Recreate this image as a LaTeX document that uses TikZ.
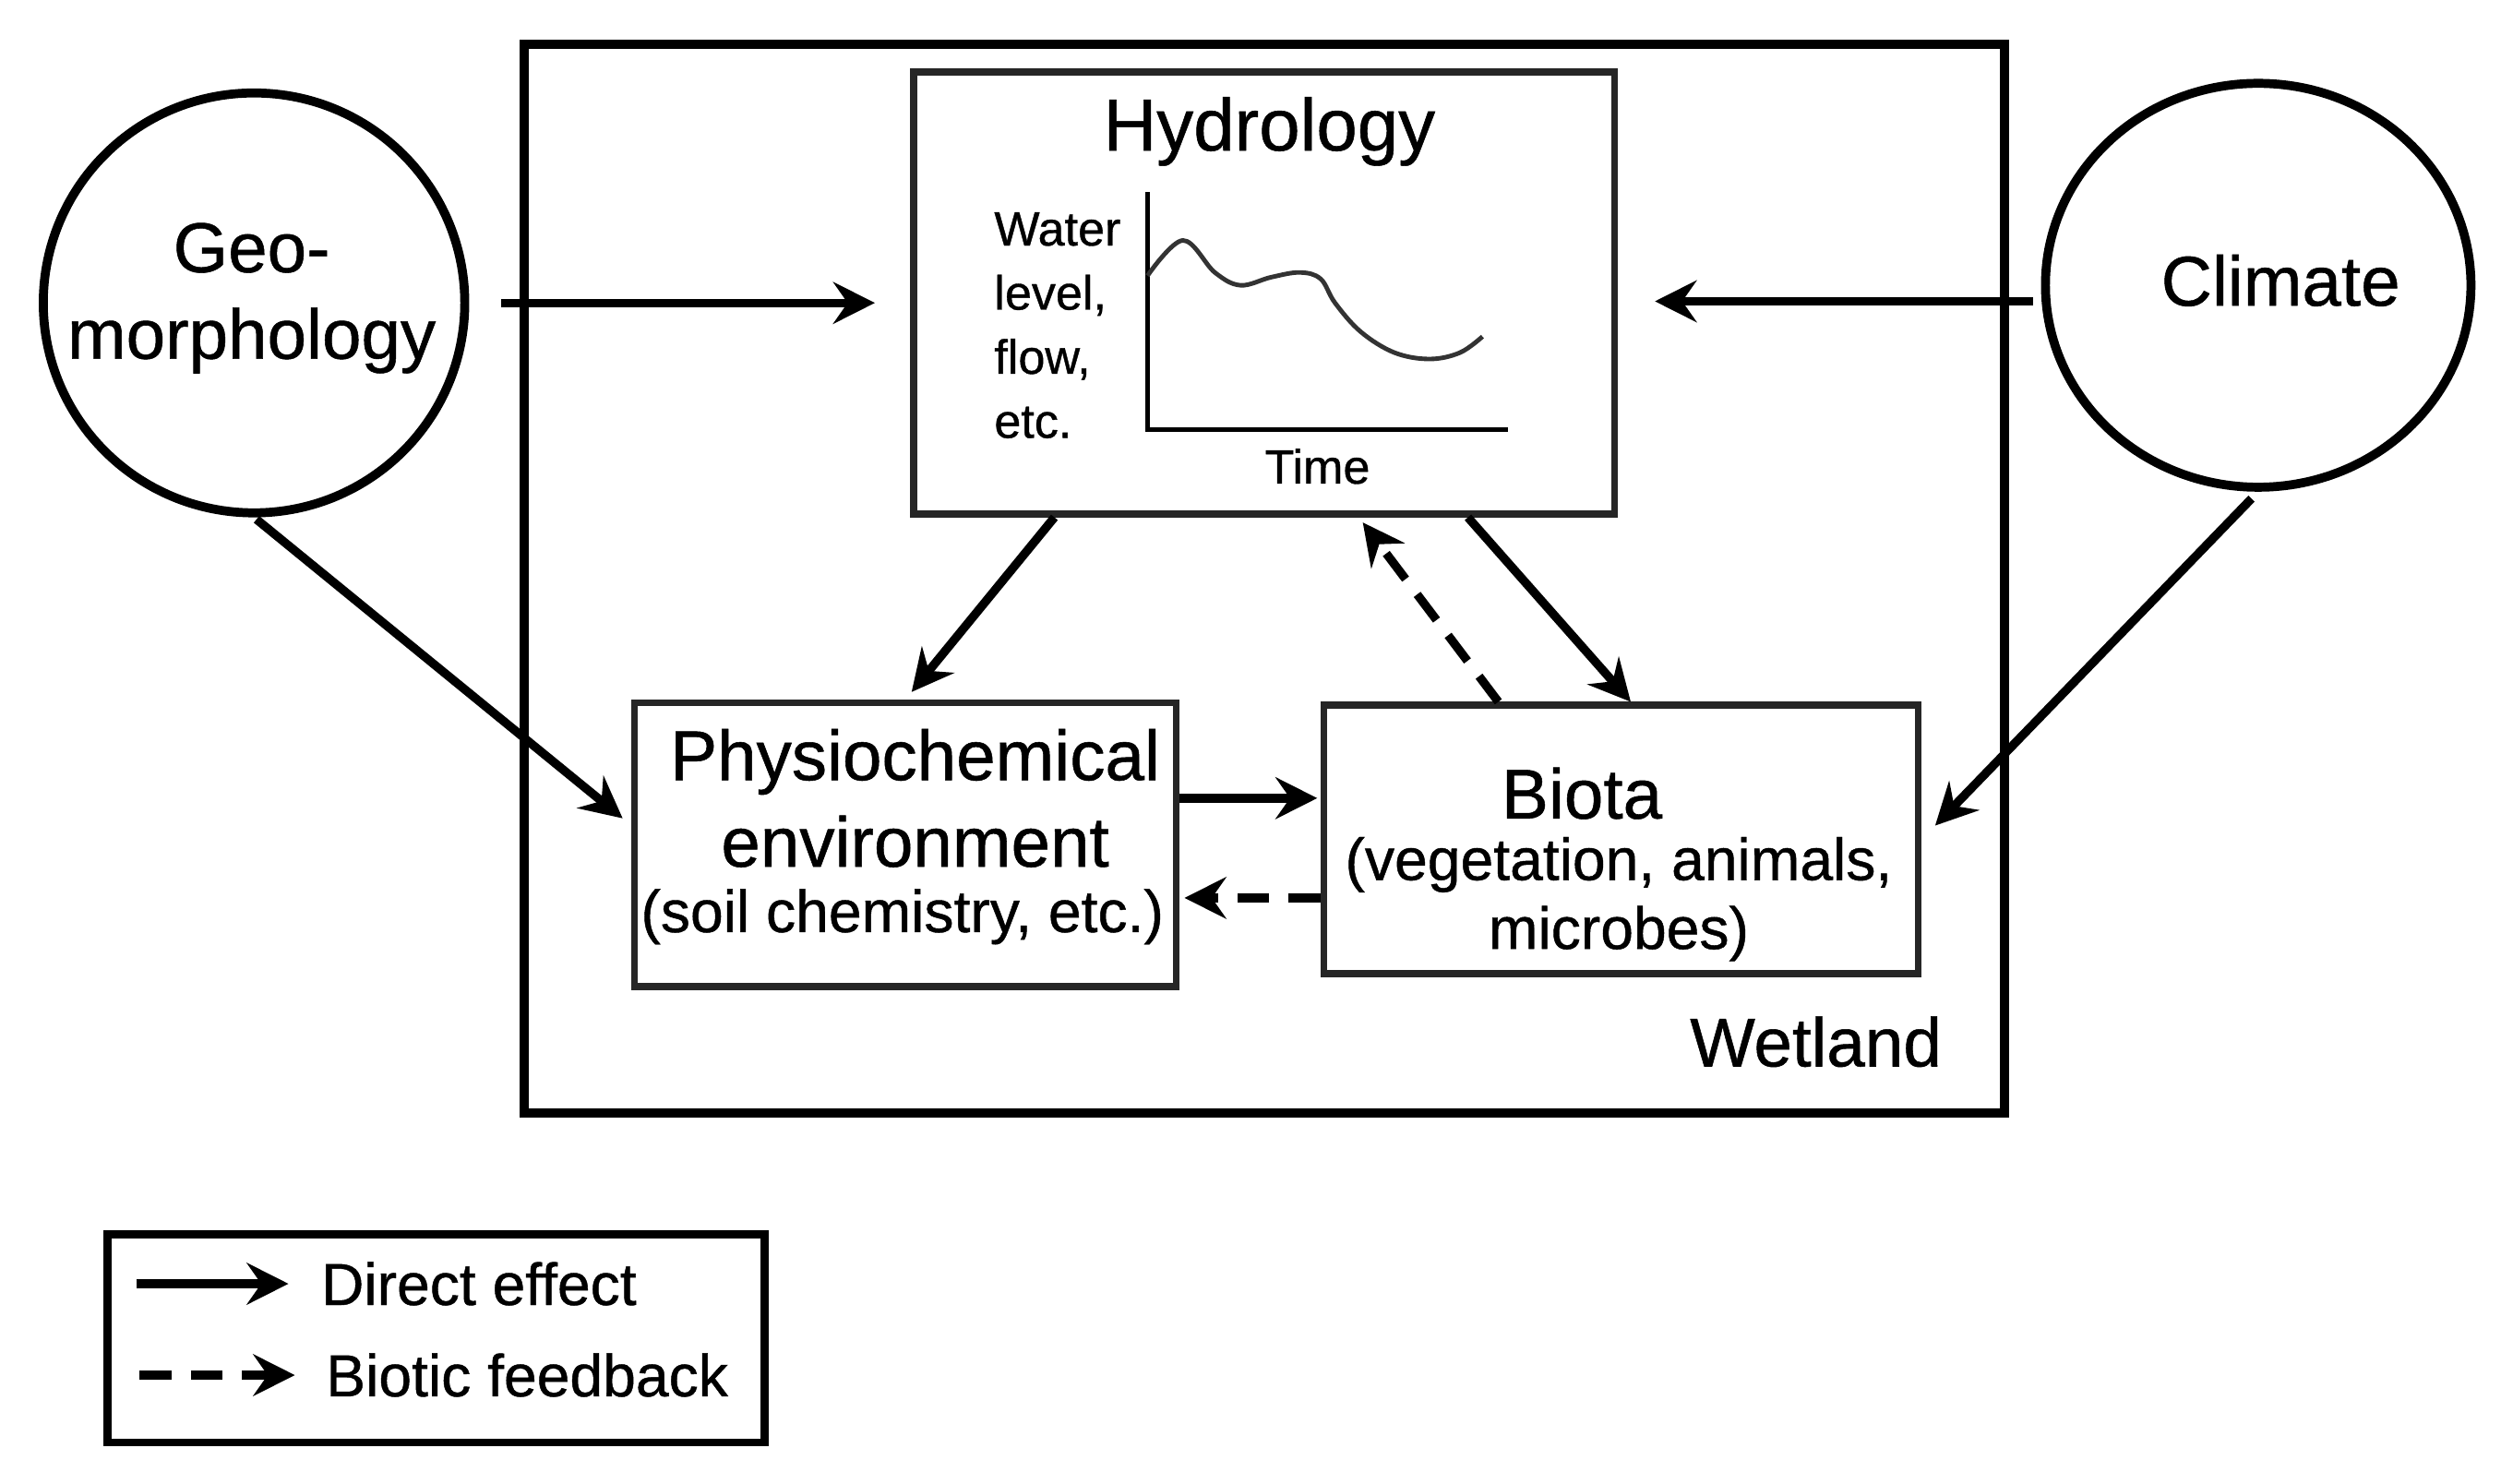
\documentclass[tikz,border=0pt]{standalone}
\usepackage{fontspec}
\setmainfont{Liberation Sans}[FakeBold=0.7]
\usetikzlibrary{arrows.meta,shapes.geometric}
\begin{document}
\begin{tikzpicture}[x=0.5pt,y=-0.5pt,
  box/.style={draw=black!85, line width=2.1pt, rectangle, inner sep=0pt},
  bigcirc/.style={draw, line width=2.8pt, ellipse, inner sep=0pt},
  direct/.style={line width=2.7pt, -{Stealth[length=13pt,width=13pt,inset=4.5pt]}},
  feedback/.style={direct, dash pattern=on 10pt off 6pt},
  lbl/.style={inner sep=0pt, align=center, font=\fontsize{22}{27}\selectfont},
  sublbl/.style={inner sep=0pt, align=center, font=\fontsize{18.5}{21.5}\selectfont},
  small/.style={inner sep=0pt, align=left, font=\fontsize{15}{20}\selectfont},
  axis/.style={line width=1.6pt},
  curve/.style={line width=1.4pt, black!80}]
\useasboundingbox (0,0) rectangle (1568,925.4);

% frames
\node[box, line width=2.8pt, draw=black, minimum width=461.85pt, minimum height=333.4pt] (wet) at (788.85,361) {};
\node[box, minimum width=218.75pt, minimum height=137.85pt] (hydro) at (788.75,182.85) {};
\node[box, minimum width=169pt, minimum height=88.5pt] (physio) at (565,527) {};
\node[box, minimum width=185.5pt, minimum height=83.75pt] (biota) at (1011.5,523.75) {};
\node[box, draw=black, line width=2.5pt, minimum width=205pt, minimum height=65pt] (legend) at (272,835) {};
\node[bigcirc, minimum width=131.5pt, minimum height=131pt] (geo) at (158.5,189) {};
\node[bigcirc, minimum width=132.75pt, minimum height=126pt] (clim) at (1409,178) {};

% labels
\node[lbl] (geotxt) at (157,186) {Geo-\\morphology};
\node[lbl] (climtxt) at (1423,175) {Climate};
\node[lbl, font=\fontsize{23}{27}\selectfont] (hydrotxt) at (792,82) {Hydrology};
\node[small, anchor=west] (watertxt) at (620,203) {Water\\level,\\flow,\\etc.};
\node[small] (timetxt) at (822,291) {Time};
\node[lbl] (physiotxt) at (571,498) {Physiochemical\\environment};
\node[sublbl] (physiosub) at (563,572) {(soil chemistry, etc.)};
\node[lbl] (biotatxt) at (987,495) {Biota};
\node[sublbl] (biotasub) at (1010,561) {(vegetation, animals,\\microbes)};
\node[lbl, font=\fontsize{21.5}{26}\selectfont] (wettxt) at (1133,650) {Wetland};
\node[sublbl, anchor=west] (leg1) at (200,801) {Direct effect};
\node[sublbl, anchor=west] (leg2) at (203,858) {Biotic feedback};

% hydrograph
\coordinate (gtop) at (716,120);
\coordinate (gorig) at (716,268);
\coordinate (gend) at (941,268);
\draw[axis] (gtop) -- (gorig) -- (gend);
\draw[curve] plot[smooth, tension=0.6] coordinates {(716,172) (738,150) (758,170) (774,178) (793,173) (811,170) (824,174) (833,189) (849,207) (870,220) (892,224) (911,220) (925,210)};

% connectors
\draw[direct, shorten <=10pt, shorten >=11pt] (geo.east) -- (geo.east -| hydro.west);
\draw[direct, shorten <=2.5pt, shorten >=11.5pt] ([yshift=-5pt]clim.west) -- ([yshift=-5pt]clim.west -| hydro.east);
\draw[direct, shorten <=1pt, shorten >=3.5pt] (geo.south) -- ([yshift=6pt]physio.west);
\draw[direct, shorten <=3pt, shorten >=6pt] (clim.south) -- (biota.east);
\draw[direct, shorten >=3pt] ([xshift=45pt]hydro.south west) -- (physio.north);
\draw[direct] ([xshift=174pt]hydro.south west) -- ([xshift=3pt]biota.north);
\draw[feedback, shorten >=2pt] ([xshift=55.5pt]biota.north west) -- ([xshift=140pt]hydro.south west);
\draw[direct, shorten >=1pt] ([yshift=14.5pt]physio.east) -- ([yshift=14.5pt]physio.east -| biota.west);
\draw[feedback, shorten >=1.5pt] ([yshift=-18.25pt]biota.west) -- ([yshift=-18.25pt]biota.west -| physio.east);

% legend samples
\coordinate (l1a) at (85,801);
\coordinate (l1b) at (180,801);
\coordinate (l2a) at (87,858);
\coordinate (l2b) at (184,858);
\draw[direct] (l1a) -- (l1b);
\draw[feedback] (l2a) -- (l2b);
\end{tikzpicture}
\end{document}
